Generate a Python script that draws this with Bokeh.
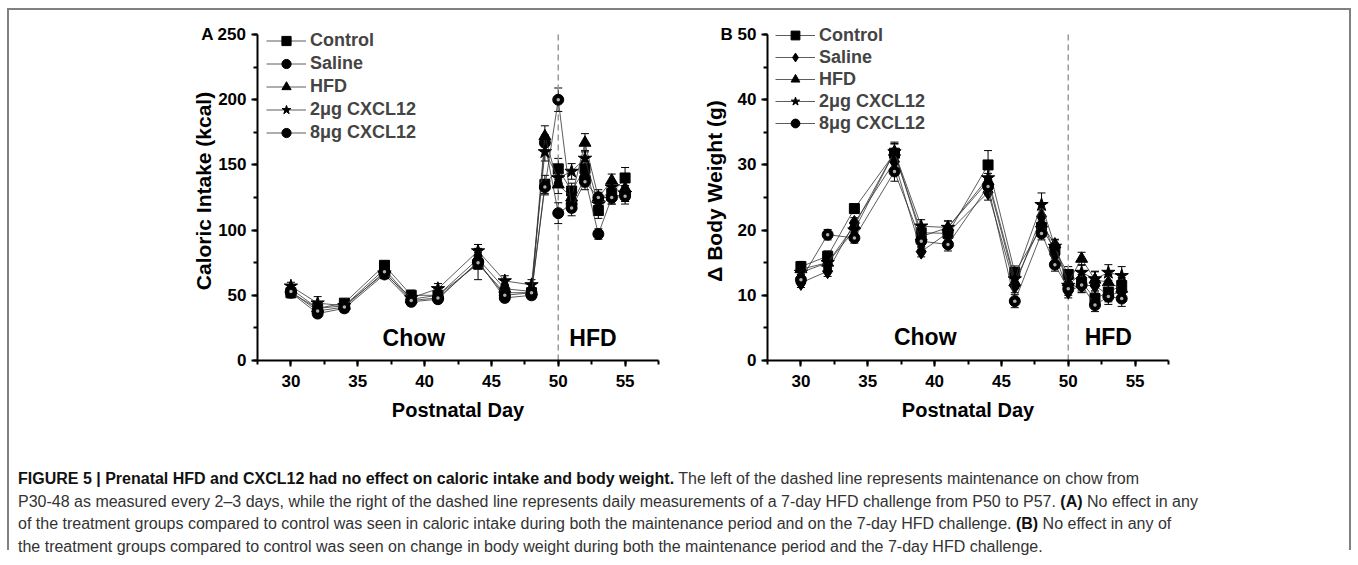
from bokeh.plotting import figure
from bokeh.models import (ColumnDataSource, Whisker, TeeHead, Legend, LegendItem,
                          Div, SingleIntervalTicker)
from bokeh.layouts import row, column
from bokeh.embed import file_html
from bokeh.resources import INLINE
from bokeh.core.properties import value

# ---------------- data ----------------
series_names = ["Control", "Saline", "HFD", "2\u03bcg CXCL12", "8\u03bcg CXCL12"]

days_A = [30, 32, 34, 37, 39, 41, 44, 46, 48, 49, 50, 51, 52, 53, 54, 55]
control_A = [52, 40, 44, 73, 50, 50, 74, 52, 52, 135, 147, 130, 147, 115, 128, 140]
saline_A = [52, 36, 40, 66, 45, 47, 76, 48, 50, 167, 113, 120, 140, 97, 125, 128]
hfd_A = [55, 40, 42, 70, 47, 50, 78, 55, 53, 172, 135, 125, 167, 125, 138, 132]
cx2_A = [57, 44, 42, 67, 48, 55, 84, 61, 58, 160, 140, 145, 155, 120, 133, 128]
cx8_A = [53, 38, 41, 68, 46, 48, 75, 50, 52, 133, 200, 117, 137, 125, 125, 126]
err_control_A = [4, 4, 3, 3, 4, 4, 12, 4, 3, 7, 8, 6, 6, 6, 5, 8]
err_saline_A = [3, 3, 3, 3, 3, 3, 5, 3, 3, 6, 8, 6, 6, 4, 5, 6]
err_hfd_A = [3, 3, 3, 3, 3, 3, 5, 3, 3, 8, 7, 6, 7, 6, 5, 6]
err_cx2_A = [3, 5, 3, 3, 3, 4, 5, 4, 4, 7, 6, 6, 6, 6, 5, 6]
err_cx8_A = [3, 3, 3, 3, 3, 3, 5, 3, 3, 6, 9, 6, 6, 4, 5, 6]

days_B = [30, 32, 34, 37, 39, 41, 44, 46, 48, 49, 50, 51, 52, 53, 54]
control_B = [14.4, 16.0, 23.3, 31.8, 19.6, 19.5, 30.0, 13.5, 20.4, 17.0, 13.2, 12.0, 9.5, 10.5, 11.5]
saline_B = [11.9, 13.7, 21.1, 30.5, 16.7, 19.6, 25.8, 11.4, 22.1, 16.2, 10.6, 11.5, 11.5, 10.0, 10.5]
hfd_B = [14.0, 15.0, 20.7, 32.0, 19.0, 20.4, 27.5, 12.0, 21.0, 17.8, 12.0, 15.6, 12.4, 12.0, 11.0]
cx2_B = [13.5, 15.0, 20.0, 32.0, 20.6, 20.4, 28.0, 12.5, 23.9, 17.5, 11.5, 13.5, 12.5, 13.5, 13.0]
cx8_B = [12.4, 19.3, 18.8, 29.0, 18.3, 17.8, 26.7, 9.1, 19.5, 14.7, 11.0, 11.6, 8.5, 9.8, 9.5]
err_control_B = [0.8, 0.8, 0.7, 1.5, 1.0, 1.0, 2.2, 1.0, 1.0, 1.0, 1.2, 1.2, 1.2, 1.2, 1.2]
err_saline_B = [0.7, 0.8, 0.8, 1.2, 0.8, 0.8, 1.2, 1.0, 1.0, 0.8, 1.0, 1.0, 1.0, 1.0, 1.0]
err_hfd_B = [0.8, 0.8, 0.8, 1.2, 1.0, 1.0, 1.2, 1.0, 1.0, 0.8, 1.0, 1.0, 1.2, 1.2, 1.2]
err_cx2_B = [0.8, 0.8, 0.8, 1.5, 1.0, 1.0, 1.5, 1.0, 1.8, 1.0, 1.0, 1.2, 1.2, 1.2, 1.4]
err_cx8_B = [0.8, 0.8, 0.8, 1.5, 1.0, 1.0, 1.2, 1.0, 1.0, 1.0, 1.0, 1.2, 1.0, 1.2, 1.2]

FONT = "Liberation Sans"


def make_panel(letter, days, ys, errs, markers, ymax, ystep, ylabel,
               chow_x, hfd_x, chow_y, leg_x, leg_y, row_h,
               min_left, min_right, ylabel_standoff):
    extra = ymax * 0.04  # head-room above the axis end, for the legend
    p = figure(frame_width=401, frame_height=339, x_range=(27.5, 57.5),
               y_range=(0, ymax + extra), output_backend="svg",
               toolbar_location=None,
               min_border_left=min_left, min_border_right=min_right,
               min_border_top=11, min_border_bottom=70)
    p.outline_line_color = None
    p.grid.visible = False
    p.background_fill_color = "white"
    p.border_fill_color = None

    # dashed separator between chow and HFD periods
    p.segment(x0=[50], y0=[0], x1=[50], y1=[ymax], line_color="#9a9a9a",
              line_dash="6 4", line_width=1.5)

    items = []
    for name, y, e, mk in zip(series_names, ys, errs, markers):
        src = ColumnDataSource(dict(x=days, y=y,
                                    lo=[a - b for a, b in zip(y, e)],
                                    hi=[a + b for a, b in zip(y, e)]))
        w = Whisker(source=src, base="x", lower="lo", upper="hi",
                    line_color="black", line_width=1,
                    lower_head=TeeHead(size=8, line_color="black", line_width=1),
                    upper_head=TeeHead(size=8, line_color="black", line_width=1))
        p.add_layout(w)
        ln = p.line("x", "y", source=src, line_color="#333333", line_width=0.8)
        rs = [ln]
        if mk == "sphere":
            s1 = p.scatter("x", "y", source=src, marker="circle", size=11,
                           fill_color="black", line_color="black")
            p.scatter("x", "y", source=src, marker="circle", size=3.5,
                      fill_color="#b0b0b0", line_color=None)
            rs.append(s1)
        else:
            size = {"square": 10, "circle": 11, "triangle": 12,
                    "star": 14, "diamond": 15}[mk]
            s1 = p.scatter("x", "y", source=src, marker=mk, size=size,
                           fill_color="black", line_color="black")
            rs.append(s1)
        items.append(LegendItem(label=name, renderers=rs))

    leg = Legend(items=items, location=(leg_x, leg_y), glyph_width=40,
                 glyph_height=row_h, label_height=row_h, spacing=0, padding=0,
                 margin=0, border_line_color=None, background_fill_alpha=0,
                 label_text_font=FONT, label_text_font_style="bold",
                 label_text_font_size="18px", label_standoff=4)
    p.add_layout(leg)

    p.text(x=[chow_x, hfd_x], y=[chow_y, chow_y], text=["Chow", "HFD"],
           text_font=value(FONT), text_font_style="bold", text_font_size="23px",
           text_align="center", text_baseline="middle", text_color="black")

    for ax in (p.xaxis[0], p.yaxis[0]):
        ax.axis_line_width = 2
        ax.axis_line_color = "black"
        ax.major_tick_line_width = 2
        ax.minor_tick_line_width = 2
        ax.major_tick_out = 6
        ax.major_tick_in = 0
        ax.minor_tick_out = 4
        ax.minor_tick_in = 0
        ax.major_label_text_font = FONT
        ax.major_label_text_font_style = "bold"
        ax.major_label_text_font_size = "17px"
        ax.major_label_text_color = "black"
        ax.axis_label_text_font = FONT
        ax.axis_label_text_font_style = "bold"
        ax.axis_label_text_font_size = "20px"
        ax.axis_label_text_color = "black"

    p.xaxis.ticker = SingleIntervalTicker(interval=5, num_minor_ticks=2)
    p.xaxis.axis_label = "Postnatal Day"
    p.xaxis.major_label_standoff = 8
    p.xaxis.axis_label_standoff = 9
    p.yaxis.ticker = SingleIntervalTicker(interval=ystep, num_minor_ticks=2)
    p.yaxis.bounds = (0, ymax)
    p.yaxis.major_label_overrides = {ymax: f"{letter} {ymax}"}
    p.yaxis.axis_label = ylabel
    p.yaxis.axis_label_text_font_size = "21px"
    p.yaxis.major_label_standoff = 5
    p.yaxis.axis_label_standoff = ylabel_standoff
    return p


pA = make_panel("A", days_A, [control_A, saline_A, hfd_A, cx2_A, cx8_A],
                [err_control_A, err_saline_A, err_hfd_A, err_cx2_A, err_cx8_A],
                ["square", "circle", "triangle", "star", "sphere"],
                250, 50, "Caloric Intake (kcal)", 39.2, 52.6, 17.3,
                9, 216, 23, 248, 22, -17)
pB = make_panel("B", days_B, [control_B, saline_B, hfd_B, cx2_B, cx8_B],
                [err_control_B, err_saline_B, err_hfd_B, err_cx2_B, err_cx8_B],
                ["square", "diamond", "triangle", "star", "sphere"],
                50, 10, "\u0394 Body Weight (g)", 39.3, 53.0, 3.6,
                8, 226, 22, 87, 181, -8)

caption_html = (
    "<b style='color:#111'>FIGURE 5 | Prenatal HFD and CXCL12 had no effect on caloric intake and body weight.</b> "
    "The left of the dashed line represents maintenance on chow from<br>"
    "P30-48 as measured every 2\u20133 days, while the right of the dashed line represents daily measurements "
    "of a 7-day HFD challenge from P50 to P57. <b style='color:#111'>(A)</b> No effect in any<br>"
    "of the treatment groups compared to control was seen in caloric intake during both the maintenance "
    "period and on the 7-day HFD challenge. <b style='color:#111'>(B)</b> No effect in any of<br>"
    "the treatment groups compared to control was seen on change in body weight during both the "
    "maintenance period and the 7-day HFD challenge."
)
cap = Div(text=caption_html, width=1330, height=110,
          styles={"font-family": "'Liberation Sans', Arial, sans-serif",
                  "font-size": "16px", "line-height": "22.5px",
                  "color": "#333333", "white-space": "nowrap",
                  "padding-left": "4px", "padding-top": "33px"})

layout = column(row(pA, pB), cap,
                styles={"border-top": "2px solid #808080",
                        "border-left": "2px solid #808080",
                        "border-right": "2px solid #808080",
                        "margin-left": "7px", "margin-top": "8px"})

open("out.html", "w").write(file_html(layout, INLINE))
